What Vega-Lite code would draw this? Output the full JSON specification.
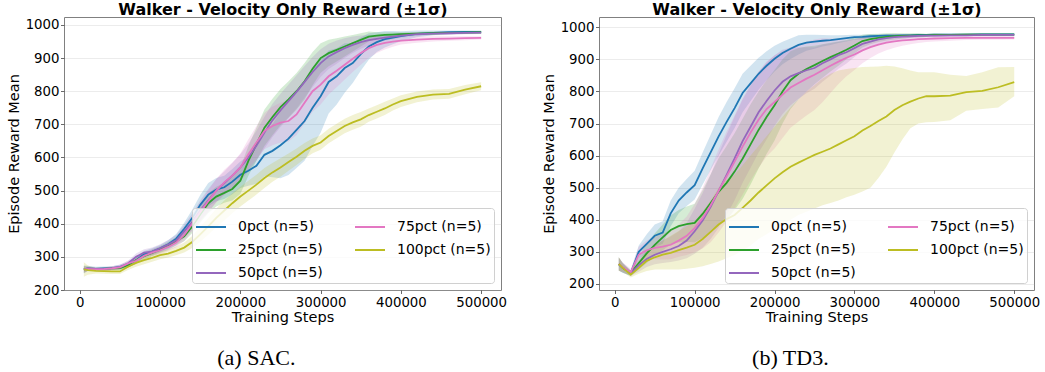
{
"$schema": "https://vega.github.io/schema/vega-lite/v6.json",
"background": "white",
"padding": {"left": 5, "top": 0, "right": 3, "bottom": 0},
"config": {
  "font": "DejaVu Sans",
  "view": {"stroke": "#808080", "strokeWidth": 1},
  "axis": {"labelFont": "DejaVu Sans", "labelFontSize": 13.3, "labelColor": "#000", "titleFont": "DejaVu Sans", "titleFontSize": 14.5, "titleFontWeight": "normal", "titleColor": "#000", "gridColor": "#b0b0b0", "gridOpacity": 0.3, "gridWidth": 0.8, "tickColor": "#444", "tickSize": 3.5, "tickWidth": 0.8, "labelPadding": 1.5, "domain": false}
},
"datasets": {
"sac": [
{"series":"0pct","step":5000,"mean":262,"lo":250,"hi":274},
{"series":"0pct","step":10000,"mean":265,"lo":257,"hi":273},
{"series":"0pct","step":20000,"mean":264,"lo":258,"hi":270},
{"series":"0pct","step":30000,"mean":265,"lo":259,"hi":271},
{"series":"0pct","step":40000,"mean":266,"lo":260,"hi":272},
{"series":"0pct","step":50000,"mean":269,"lo":262,"hi":276},
{"series":"0pct","step":60000,"mean":277,"lo":269,"hi":285},
{"series":"0pct","step":70000,"mean":290,"lo":280,"hi":300},
{"series":"0pct","step":80000,"mean":308,"lo":298,"hi":318},
{"series":"0pct","step":90000,"mean":316,"lo":306,"hi":326},
{"series":"0pct","step":100000,"mean":326,"lo":316,"hi":336},
{"series":"0pct","step":110000,"mean":338,"lo":326,"hi":350},
{"series":"0pct","step":120000,"mean":355,"lo":341,"hi":369},
{"series":"0pct","step":130000,"mean":385,"lo":367,"hi":403},
{"series":"0pct","step":140000,"mean":417,"lo":392,"hi":442},
{"series":"0pct","step":150000,"mean":457,"lo":427,"hi":487},
{"series":"0pct","step":160000,"mean":488,"lo":453,"hi":523},
{"series":"0pct","step":170000,"mean":503,"lo":468,"hi":538},
{"series":"0pct","step":180000,"mean":510,"lo":475,"hi":545},
{"series":"0pct","step":190000,"mean":527,"lo":489,"hi":565},
{"series":"0pct","step":200000,"mean":548,"lo":508,"hi":588},
{"series":"0pct","step":210000,"mean":560,"lo":515,"hi":605},
{"series":"0pct","step":220000,"mean":575,"lo":520,"hi":630},
{"series":"0pct","step":230000,"mean":608,"lo":543,"hi":673},
{"series":"0pct","step":240000,"mean":620,"lo":540,"hi":700},
{"series":"0pct","step":250000,"mean":637,"lo":537,"hi":737},
{"series":"0pct","step":260000,"mean":657,"lo":547,"hi":767},
{"series":"0pct","step":270000,"mean":683,"lo":568,"hi":798},
{"series":"0pct","step":280000,"mean":710,"lo":590,"hi":830},
{"series":"0pct","step":290000,"mean":750,"lo":635,"hi":865},
{"series":"0pct","step":300000,"mean":785,"lo":675,"hi":895},
{"series":"0pct","step":310000,"mean":828,"lo":733,"hi":923},
{"series":"0pct","step":320000,"mean":845,"lo":760,"hi":930},
{"series":"0pct","step":330000,"mean":870,"lo":795,"hi":945},
{"series":"0pct","step":340000,"mean":885,"lo":825,"hi":945},
{"series":"0pct","step":350000,"mean":912,"lo":862,"hi":962},
{"series":"0pct","step":360000,"mean":935,"lo":895,"hi":975},
{"series":"0pct","step":370000,"mean":948,"lo":918,"hi":978},
{"series":"0pct","step":380000,"mean":957,"lo":932,"hi":982},
{"series":"0pct","step":390000,"mean":962,"lo":942,"hi":982},
{"series":"0pct","step":400000,"mean":966,"lo":951,"hi":981},
{"series":"0pct","step":420000,"mean":973,"lo":963,"hi":983},
{"series":"0pct","step":440000,"mean":976,"lo":969,"hi":983},
{"series":"0pct","step":460000,"mean":978,"lo":973,"hi":983},
{"series":"0pct","step":480000,"mean":979,"lo":975,"hi":983},
{"series":"0pct","step":500000,"mean":979,"lo":975,"hi":983},
{"series":"25pct","step":5000,"mean":262,"lo":252,"hi":272},
{"series":"25pct","step":10000,"mean":264,"lo":258,"hi":270},
{"series":"25pct","step":20000,"mean":263,"lo":258,"hi":268},
{"series":"25pct","step":30000,"mean":264,"lo":259,"hi":269},
{"series":"25pct","step":40000,"mean":265,"lo":260,"hi":270},
{"series":"25pct","step":50000,"mean":266,"lo":260,"hi":272},
{"series":"25pct","step":60000,"mean":275,"lo":267,"hi":283},
{"series":"25pct","step":70000,"mean":290,"lo":280,"hi":300},
{"series":"25pct","step":80000,"mean":302,"lo":292,"hi":312},
{"series":"25pct","step":90000,"mean":312,"lo":302,"hi":322},
{"series":"25pct","step":100000,"mean":322,"lo":312,"hi":332},
{"series":"25pct","step":110000,"mean":333,"lo":321,"hi":345},
{"series":"25pct","step":120000,"mean":347,"lo":335,"hi":359},
{"series":"25pct","step":130000,"mean":362,"lo":347,"hi":377},
{"series":"25pct","step":140000,"mean":392,"lo":372,"hi":412},
{"series":"25pct","step":150000,"mean":428,"lo":403,"hi":453},
{"series":"25pct","step":160000,"mean":462,"lo":432,"hi":492},
{"series":"25pct","step":170000,"mean":482,"lo":452,"hi":512},
{"series":"25pct","step":180000,"mean":493,"lo":463,"hi":523},
{"series":"25pct","step":190000,"mean":505,"lo":470,"hi":540},
{"series":"25pct","step":200000,"mean":530,"lo":490,"hi":570},
{"series":"25pct","step":210000,"mean":590,"lo":545,"hi":635},
{"series":"25pct","step":220000,"mean":640,"lo":590,"hi":690},
{"series":"25pct","step":230000,"mean":690,"lo":635,"hi":745},
{"series":"25pct","step":240000,"mean":722,"lo":667,"hi":777},
{"series":"25pct","step":250000,"mean":752,"lo":697,"hi":807},
{"series":"25pct","step":260000,"mean":775,"lo":720,"hi":830},
{"series":"25pct","step":270000,"mean":800,"lo":745,"hi":855},
{"series":"25pct","step":280000,"mean":830,"lo":775,"hi":885},
{"series":"25pct","step":290000,"mean":868,"lo":818,"hi":918},
{"series":"25pct","step":300000,"mean":900,"lo":855,"hi":945},
{"series":"25pct","step":310000,"mean":915,"lo":875,"hi":955},
{"series":"25pct","step":320000,"mean":925,"lo":890,"hi":960},
{"series":"25pct","step":330000,"mean":935,"lo":905,"hi":965},
{"series":"25pct","step":340000,"mean":945,"lo":920,"hi":970},
{"series":"25pct","step":350000,"mean":955,"lo":935,"hi":975},
{"series":"25pct","step":360000,"mean":965,"lo":950,"hi":980},
{"series":"25pct","step":370000,"mean":968,"lo":958,"hi":978},
{"series":"25pct","step":380000,"mean":970,"lo":962,"hi":978},
{"series":"25pct","step":390000,"mean":971,"lo":964,"hi":978},
{"series":"25pct","step":400000,"mean":972,"lo":966,"hi":978},
{"series":"25pct","step":420000,"mean":974,"lo":969,"hi":979},
{"series":"25pct","step":440000,"mean":975,"lo":970,"hi":980},
{"series":"25pct","step":460000,"mean":976,"lo":972,"hi":980},
{"series":"25pct","step":480000,"mean":977,"lo":973,"hi":981},
{"series":"25pct","step":500000,"mean":978,"lo":974,"hi":982},
{"series":"50pct","step":5000,"mean":262,"lo":252,"hi":272},
{"series":"50pct","step":10000,"mean":265,"lo":259,"hi":271},
{"series":"50pct","step":20000,"mean":264,"lo":259,"hi":269},
{"series":"50pct","step":30000,"mean":264,"lo":259,"hi":269},
{"series":"50pct","step":40000,"mean":266,"lo":260,"hi":272},
{"series":"50pct","step":50000,"mean":270,"lo":263,"hi":277},
{"series":"50pct","step":60000,"mean":280,"lo":272,"hi":288},
{"series":"50pct","step":70000,"mean":300,"lo":290,"hi":310},
{"series":"50pct","step":80000,"mean":313,"lo":303,"hi":323},
{"series":"50pct","step":90000,"mean":316,"lo":304,"hi":328},
{"series":"50pct","step":100000,"mean":326,"lo":314,"hi":338},
{"series":"50pct","step":110000,"mean":337,"lo":323,"hi":351},
{"series":"50pct","step":120000,"mean":350,"lo":334,"hi":366},
{"series":"50pct","step":130000,"mean":377,"lo":357,"hi":397},
{"series":"50pct","step":140000,"mean":405,"lo":380,"hi":430},
{"series":"50pct","step":150000,"mean":440,"lo":410,"hi":470},
{"series":"50pct","step":160000,"mean":470,"lo":435,"hi":505},
{"series":"50pct","step":170000,"mean":500,"lo":465,"hi":535},
{"series":"50pct","step":180000,"mean":523,"lo":488,"hi":558},
{"series":"50pct","step":190000,"mean":545,"lo":507,"hi":583},
{"series":"50pct","step":200000,"mean":570,"lo":530,"hi":610},
{"series":"50pct","step":210000,"mean":600,"lo":558,"hi":642},
{"series":"50pct","step":220000,"mean":635,"lo":590,"hi":680},
{"series":"50pct","step":230000,"mean":675,"lo":627,"hi":723},
{"series":"50pct","step":240000,"mean":712,"lo":662,"hi":762},
{"series":"50pct","step":250000,"mean":742,"lo":692,"hi":792},
{"series":"50pct","step":260000,"mean":770,"lo":720,"hi":820},
{"series":"50pct","step":270000,"mean":798,"lo":748,"hi":848},
{"series":"50pct","step":280000,"mean":828,"lo":780,"hi":876},
{"series":"50pct","step":290000,"mean":858,"lo":813,"hi":903},
{"series":"50pct","step":300000,"mean":885,"lo":843,"hi":927},
{"series":"50pct","step":310000,"mean":905,"lo":867,"hi":943},
{"series":"50pct","step":320000,"mean":918,"lo":883,"hi":953},
{"series":"50pct","step":330000,"mean":930,"lo":900,"hi":960},
{"series":"50pct","step":340000,"mean":940,"lo":915,"hi":965},
{"series":"50pct","step":350000,"mean":948,"lo":928,"hi":968},
{"series":"50pct","step":360000,"mean":954,"lo":938,"hi":970},
{"series":"50pct","step":370000,"mean":958,"lo":946,"hi":970},
{"series":"50pct","step":380000,"mean":962,"lo":952,"hi":972},
{"series":"50pct","step":390000,"mean":965,"lo":957,"hi":973},
{"series":"50pct","step":400000,"mean":968,"lo":961,"hi":975},
{"series":"50pct","step":420000,"mean":972,"lo":966,"hi":978},
{"series":"50pct","step":440000,"mean":974,"lo":969,"hi":979},
{"series":"50pct","step":460000,"mean":975,"lo":970,"hi":980},
{"series":"50pct","step":480000,"mean":976,"lo":972,"hi":980},
{"series":"50pct","step":500000,"mean":977,"lo":973,"hi":981},
{"series":"75pct","step":5000,"mean":262,"lo":252,"hi":272},
{"series":"75pct","step":10000,"mean":263,"lo":257,"hi":269},
{"series":"75pct","step":20000,"mean":262,"lo":257,"hi":267},
{"series":"75pct","step":30000,"mean":263,"lo":258,"hi":268},
{"series":"75pct","step":40000,"mean":265,"lo":259,"hi":271},
{"series":"75pct","step":50000,"mean":268,"lo":261,"hi":275},
{"series":"75pct","step":60000,"mean":280,"lo":272,"hi":288},
{"series":"75pct","step":70000,"mean":288,"lo":278,"hi":298},
{"series":"75pct","step":80000,"mean":303,"lo":293,"hi":313},
{"series":"75pct","step":90000,"mean":313,"lo":303,"hi":323},
{"series":"75pct","step":100000,"mean":320,"lo":308,"hi":332},
{"series":"75pct","step":110000,"mean":330,"lo":318,"hi":342},
{"series":"75pct","step":120000,"mean":343,"lo":329,"hi":357},
{"series":"75pct","step":130000,"mean":366,"lo":348,"hi":384},
{"series":"75pct","step":140000,"mean":400,"lo":378,"hi":422},
{"series":"75pct","step":150000,"mean":435,"lo":407,"hi":463},
{"series":"75pct","step":160000,"mean":468,"lo":436,"hi":500},
{"series":"75pct","step":170000,"mean":500,"lo":465,"hi":535},
{"series":"75pct","step":180000,"mean":525,"lo":487,"hi":563},
{"series":"75pct","step":190000,"mean":545,"lo":505,"hi":585},
{"series":"75pct","step":200000,"mean":570,"lo":528,"hi":612},
{"series":"75pct","step":210000,"mean":610,"lo":565,"hi":655},
{"series":"75pct","step":220000,"mean":645,"lo":595,"hi":695},
{"series":"75pct","step":230000,"mean":680,"lo":625,"hi":735},
{"series":"75pct","step":240000,"mean":695,"lo":637,"hi":753},
{"series":"75pct","step":250000,"mean":705,"lo":645,"hi":765},
{"series":"75pct","step":260000,"mean":710,"lo":648,"hi":772},
{"series":"75pct","step":270000,"mean":730,"lo":668,"hi":792},
{"series":"75pct","step":280000,"mean":765,"lo":703,"hi":827},
{"series":"75pct","step":290000,"mean":800,"lo":738,"hi":862},
{"series":"75pct","step":300000,"mean":820,"lo":760,"hi":880},
{"series":"75pct","step":310000,"mean":845,"lo":790,"hi":900},
{"series":"75pct","step":320000,"mean":862,"lo":812,"hi":912},
{"series":"75pct","step":330000,"mean":880,"lo":835,"hi":925},
{"series":"75pct","step":340000,"mean":898,"lo":858,"hi":938},
{"series":"75pct","step":350000,"mean":915,"lo":880,"hi":950},
{"series":"75pct","step":360000,"mean":930,"lo":900,"hi":960},
{"series":"75pct","step":370000,"mean":940,"lo":915,"hi":965},
{"series":"75pct","step":380000,"mean":946,"lo":926,"hi":966},
{"series":"75pct","step":390000,"mean":950,"lo":934,"hi":966},
{"series":"75pct","step":400000,"mean":953,"lo":941,"hi":965},
{"series":"75pct","step":420000,"mean":956,"lo":946,"hi":966},
{"series":"75pct","step":440000,"mean":958,"lo":950,"hi":966},
{"series":"75pct","step":460000,"mean":959,"lo":952,"hi":966},
{"series":"75pct","step":480000,"mean":960,"lo":954,"hi":966},
{"series":"75pct","step":500000,"mean":961,"lo":956,"hi":966},
{"series":"100pct","step":5000,"mean":262,"lo":240,"hi":284},
{"series":"100pct","step":10000,"mean":260,"lo":246,"hi":274},
{"series":"100pct","step":20000,"mean":258,"lo":250,"hi":266},
{"series":"100pct","step":30000,"mean":257,"lo":249,"hi":265},
{"series":"100pct","step":40000,"mean":256,"lo":248,"hi":264},
{"series":"100pct","step":50000,"mean":256,"lo":248,"hi":264},
{"series":"100pct","step":60000,"mean":270,"lo":260,"hi":280},
{"series":"100pct","step":70000,"mean":282,"lo":270,"hi":294},
{"series":"100pct","step":80000,"mean":290,"lo":278,"hi":302},
{"series":"100pct","step":90000,"mean":297,"lo":285,"hi":309},
{"series":"100pct","step":100000,"mean":305,"lo":293,"hi":317},
{"series":"100pct","step":110000,"mean":310,"lo":298,"hi":322},
{"series":"100pct","step":120000,"mean":318,"lo":305,"hi":331},
{"series":"100pct","step":130000,"mean":328,"lo":313,"hi":343},
{"series":"100pct","step":140000,"mean":345,"lo":327,"hi":363},
{"series":"100pct","step":150000,"mean":368,"lo":346,"hi":390},
{"series":"100pct","step":160000,"mean":392,"lo":367,"hi":417},
{"series":"100pct","step":170000,"mean":418,"lo":390,"hi":446},
{"series":"100pct","step":180000,"mean":440,"lo":410,"hi":470},
{"series":"100pct","step":190000,"mean":462,"lo":432,"hi":492},
{"series":"100pct","step":200000,"mean":482,"lo":452,"hi":512},
{"series":"100pct","step":210000,"mean":500,"lo":470,"hi":530},
{"series":"100pct","step":220000,"mean":518,"lo":488,"hi":548},
{"series":"100pct","step":230000,"mean":538,"lo":508,"hi":568},
{"series":"100pct","step":240000,"mean":555,"lo":527,"hi":583},
{"series":"100pct","step":250000,"mean":570,"lo":542,"hi":598},
{"series":"100pct","step":260000,"mean":586,"lo":560,"hi":612},
{"series":"100pct","step":270000,"mean":602,"lo":577,"hi":627},
{"series":"100pct","step":280000,"mean":620,"lo":596,"hi":644},
{"series":"100pct","step":290000,"mean":635,"lo":613,"hi":657},
{"series":"100pct","step":300000,"mean":645,"lo":623,"hi":667},
{"series":"100pct","step":310000,"mean":665,"lo":643,"hi":687},
{"series":"100pct","step":320000,"mean":680,"lo":658,"hi":702},
{"series":"100pct","step":330000,"mean":695,"lo":673,"hi":717},
{"series":"100pct","step":340000,"mean":706,"lo":684,"hi":728},
{"series":"100pct","step":350000,"mean":715,"lo":693,"hi":737},
{"series":"100pct","step":360000,"mean":728,"lo":708,"hi":748},
{"series":"100pct","step":370000,"mean":738,"lo":718,"hi":758},
{"series":"100pct","step":380000,"mean":748,"lo":728,"hi":768},
{"series":"100pct","step":390000,"mean":760,"lo":742,"hi":778},
{"series":"100pct","step":400000,"mean":770,"lo":752,"hi":788},
{"series":"100pct","step":420000,"mean":783,"lo":767,"hi":799},
{"series":"100pct","step":440000,"mean":790,"lo":775,"hi":805},
{"series":"100pct","step":460000,"mean":792,"lo":777,"hi":807},
{"series":"100pct","step":480000,"mean":805,"lo":791,"hi":819},
{"series":"100pct","step":500000,"mean":815,"lo":803,"hi":827}
],
"td3": [
{"series":"0pct","step":5000,"mean":262,"lo":242,"hi":282},
{"series":"0pct","step":10000,"mean":250,"lo":235,"hi":265},
{"series":"0pct","step":20000,"mean":234,"lo":226,"hi":242},
{"series":"0pct","step":30000,"mean":300,"lo":280,"hi":320},
{"series":"0pct","step":40000,"mean":325,"lo":295,"hi":355},
{"series":"0pct","step":50000,"mean":350,"lo":315,"hi":385},
{"series":"0pct","step":60000,"mean":360,"lo":325,"hi":395},
{"series":"0pct","step":70000,"mean":420,"lo":380,"hi":460},
{"series":"0pct","step":80000,"mean":460,"lo":420,"hi":500},
{"series":"0pct","step":90000,"mean":485,"lo":443,"hi":527},
{"series":"0pct","step":100000,"mean":508,"lo":463,"hi":553},
{"series":"0pct","step":110000,"mean":560,"lo":510,"hi":610},
{"series":"0pct","step":120000,"mean":610,"lo":555,"hi":665},
{"series":"0pct","step":130000,"mean":660,"lo":600,"hi":720},
{"series":"0pct","step":140000,"mean":705,"lo":643,"hi":767},
{"series":"0pct","step":150000,"mean":748,"lo":686,"hi":810},
{"series":"0pct","step":160000,"mean":795,"lo":735,"hi":855},
{"series":"0pct","step":170000,"mean":825,"lo":770,"hi":880},
{"series":"0pct","step":180000,"mean":855,"lo":805,"hi":905},
{"series":"0pct","step":190000,"mean":880,"lo":835,"hi":925},
{"series":"0pct","step":200000,"mean":902,"lo":862,"hi":942},
{"series":"0pct","step":210000,"mean":920,"lo":885,"hi":955},
{"series":"0pct","step":220000,"mean":933,"lo":901,"hi":965},
{"series":"0pct","step":230000,"mean":945,"lo":915,"hi":975},
{"series":"0pct","step":240000,"mean":952,"lo":927,"hi":977},
{"series":"0pct","step":250000,"mean":955,"lo":933,"hi":977},
{"series":"0pct","step":260000,"mean":958,"lo":940,"hi":976},
{"series":"0pct","step":270000,"mean":960,"lo":945,"hi":975},
{"series":"0pct","step":280000,"mean":963,"lo":951,"hi":975},
{"series":"0pct","step":290000,"mean":966,"lo":956,"hi":976},
{"series":"0pct","step":300000,"mean":969,"lo":961,"hi":977},
{"series":"0pct","step":310000,"mean":970,"lo":963,"hi":977},
{"series":"0pct","step":320000,"mean":972,"lo":966,"hi":978},
{"series":"0pct","step":330000,"mean":973,"lo":968,"hi":978},
{"series":"0pct","step":340000,"mean":974,"lo":969,"hi":979},
{"series":"0pct","step":350000,"mean":974,"lo":970,"hi":978},
{"series":"0pct","step":360000,"mean":975,"lo":971,"hi":979},
{"series":"0pct","step":370000,"mean":975,"lo":971,"hi":979},
{"series":"0pct","step":380000,"mean":976,"lo":972,"hi":980},
{"series":"0pct","step":390000,"mean":976,"lo":973,"hi":979},
{"series":"0pct","step":400000,"mean":977,"lo":974,"hi":980},
{"series":"0pct","step":420000,"mean":977,"lo":974,"hi":980},
{"series":"0pct","step":440000,"mean":977,"lo":974,"hi":980},
{"series":"0pct","step":460000,"mean":978,"lo":975,"hi":981},
{"series":"0pct","step":480000,"mean":978,"lo":975,"hi":981},
{"series":"0pct","step":500000,"mean":978,"lo":975,"hi":981},
{"series":"25pct","step":5000,"mean":262,"lo":242,"hi":282},
{"series":"25pct","step":10000,"mean":250,"lo":235,"hi":265},
{"series":"25pct","step":20000,"mean":233,"lo":225,"hi":241},
{"series":"25pct","step":30000,"mean":265,"lo":245,"hi":285},
{"series":"25pct","step":40000,"mean":295,"lo":265,"hi":325},
{"series":"25pct","step":50000,"mean":322,"lo":287,"hi":357},
{"series":"25pct","step":60000,"mean":345,"lo":305,"hi":385},
{"series":"25pct","step":70000,"mean":368,"lo":323,"hi":413},
{"series":"25pct","step":80000,"mean":380,"lo":330,"hi":430},
{"series":"25pct","step":90000,"mean":386,"lo":331,"hi":441},
{"series":"25pct","step":100000,"mean":390,"lo":330,"hi":450},
{"series":"25pct","step":110000,"mean":418,"lo":343,"hi":493},
{"series":"25pct","step":120000,"mean":452,"lo":362,"hi":542},
{"series":"25pct","step":130000,"mean":487,"lo":382,"hi":592},
{"series":"25pct","step":140000,"mean":515,"lo":400,"hi":630},
{"series":"25pct","step":150000,"mean":550,"lo":430,"hi":670},
{"series":"25pct","step":160000,"mean":590,"lo":465,"hi":715},
{"series":"25pct","step":170000,"mean":635,"lo":510,"hi":760},
{"series":"25pct","step":180000,"mean":680,"lo":560,"hi":800},
{"series":"25pct","step":190000,"mean":720,"lo":605,"hi":835},
{"series":"25pct","step":200000,"mean":757,"lo":647,"hi":867},
{"series":"25pct","step":210000,"mean":800,"lo":700,"hi":900},
{"series":"25pct","step":220000,"mean":835,"lo":745,"hi":925},
{"series":"25pct","step":230000,"mean":855,"lo":775,"hi":935},
{"series":"25pct","step":240000,"mean":870,"lo":800,"hi":940},
{"series":"25pct","step":250000,"mean":882,"lo":822,"hi":942},
{"series":"25pct","step":260000,"mean":895,"lo":843,"hi":947},
{"series":"25pct","step":270000,"mean":907,"lo":862,"hi":952},
{"series":"25pct","step":280000,"mean":918,"lo":880,"hi":956},
{"series":"25pct","step":290000,"mean":930,"lo":900,"hi":960},
{"series":"25pct","step":300000,"mean":943,"lo":918,"hi":968},
{"series":"25pct","step":310000,"mean":957,"lo":937,"hi":977},
{"series":"25pct","step":320000,"mean":963,"lo":947,"hi":979},
{"series":"25pct","step":330000,"mean":967,"lo":954,"hi":980},
{"series":"25pct","step":340000,"mean":970,"lo":959,"hi":981},
{"series":"25pct","step":350000,"mean":972,"lo":962,"hi":982},
{"series":"25pct","step":360000,"mean":973,"lo":965,"hi":981},
{"series":"25pct","step":370000,"mean":974,"lo":967,"hi":981},
{"series":"25pct","step":380000,"mean":975,"lo":969,"hi":981},
{"series":"25pct","step":390000,"mean":975,"lo":970,"hi":980},
{"series":"25pct","step":400000,"mean":976,"lo":971,"hi":981},
{"series":"25pct","step":420000,"mean":976,"lo":972,"hi":980},
{"series":"25pct","step":440000,"mean":977,"lo":973,"hi":981},
{"series":"25pct","step":460000,"mean":977,"lo":973,"hi":981},
{"series":"25pct","step":480000,"mean":977,"lo":973,"hi":981},
{"series":"25pct","step":500000,"mean":977,"lo":973,"hi":981},
{"series":"50pct","step":5000,"mean":262,"lo":242,"hi":282},
{"series":"50pct","step":10000,"mean":250,"lo":235,"hi":265},
{"series":"50pct","step":20000,"mean":233,"lo":225,"hi":241},
{"series":"50pct","step":30000,"mean":258,"lo":238,"hi":278},
{"series":"50pct","step":40000,"mean":278,"lo":253,"hi":303},
{"series":"50pct","step":50000,"mean":291,"lo":261,"hi":321},
{"series":"50pct","step":60000,"mean":300,"lo":265,"hi":335},
{"series":"50pct","step":70000,"mean":308,"lo":268,"hi":348},
{"series":"50pct","step":80000,"mean":318,"lo":273,"hi":363},
{"series":"50pct","step":90000,"mean":335,"lo":280,"hi":390},
{"series":"50pct","step":100000,"mean":364,"lo":294,"hi":434},
{"series":"50pct","step":110000,"mean":398,"lo":313,"hi":483},
{"series":"50pct","step":120000,"mean":440,"lo":340,"hi":540},
{"series":"50pct","step":130000,"mean":490,"lo":375,"hi":605},
{"series":"50pct","step":140000,"mean":540,"lo":415,"hi":665},
{"series":"50pct","step":150000,"mean":591,"lo":461,"hi":721},
{"series":"50pct","step":160000,"mean":645,"lo":515,"hi":775},
{"series":"50pct","step":170000,"mean":690,"lo":562,"hi":818},
{"series":"50pct","step":180000,"mean":735,"lo":610,"hi":860},
{"series":"50pct","step":190000,"mean":770,"lo":650,"hi":890},
{"series":"50pct","step":200000,"mean":803,"lo":693,"hi":913},
{"series":"50pct","step":210000,"mean":830,"lo":730,"hi":930},
{"series":"50pct","step":220000,"mean":847,"lo":757,"hi":937},
{"series":"50pct","step":230000,"mean":857,"lo":777,"hi":937},
{"series":"50pct","step":240000,"mean":866,"lo":794,"hi":938},
{"series":"50pct","step":250000,"mean":873,"lo":808,"hi":938},
{"series":"50pct","step":260000,"mean":888,"lo":830,"hi":946},
{"series":"50pct","step":270000,"mean":900,"lo":850,"hi":950},
{"series":"50pct","step":280000,"mean":913,"lo":871,"hi":955},
{"series":"50pct","step":290000,"mean":922,"lo":887,"hi":957},
{"series":"50pct","step":300000,"mean":935,"lo":907,"hi":963},
{"series":"50pct","step":310000,"mean":948,"lo":926,"hi":970},
{"series":"50pct","step":320000,"mean":955,"lo":937,"hi":973},
{"series":"50pct","step":330000,"mean":962,"lo":948,"hi":976},
{"series":"50pct","step":340000,"mean":966,"lo":954,"hi":978},
{"series":"50pct","step":350000,"mean":969,"lo":959,"hi":979},
{"series":"50pct","step":360000,"mean":971,"lo":963,"hi":979},
{"series":"50pct","step":370000,"mean":972,"lo":965,"hi":979},
{"series":"50pct","step":380000,"mean":973,"lo":967,"hi":979},
{"series":"50pct","step":390000,"mean":974,"lo":969,"hi":979},
{"series":"50pct","step":400000,"mean":974,"lo":969,"hi":979},
{"series":"50pct","step":420000,"mean":975,"lo":971,"hi":979},
{"series":"50pct","step":440000,"mean":975,"lo":971,"hi":979},
{"series":"50pct","step":460000,"mean":976,"lo":972,"hi":980},
{"series":"50pct","step":480000,"mean":976,"lo":972,"hi":980},
{"series":"50pct","step":500000,"mean":976,"lo":972,"hi":980},
{"series":"75pct","step":5000,"mean":262,"lo":242,"hi":282},
{"series":"75pct","step":10000,"mean":252,"lo":237,"hi":267},
{"series":"75pct","step":20000,"mean":237,"lo":227,"hi":247},
{"series":"75pct","step":30000,"mean":291,"lo":266,"hi":316},
{"series":"75pct","step":40000,"mean":305,"lo":275,"hi":335},
{"series":"75pct","step":50000,"mean":312,"lo":277,"hi":347},
{"series":"75pct","step":60000,"mean":316,"lo":276,"hi":356},
{"series":"75pct","step":70000,"mean":322,"lo":277,"hi":367},
{"series":"75pct","step":80000,"mean":335,"lo":285,"hi":385},
{"series":"75pct","step":90000,"mean":350,"lo":290,"hi":410},
{"series":"75pct","step":100000,"mean":374,"lo":299,"hi":449},
{"series":"75pct","step":110000,"mean":405,"lo":310,"hi":500},
{"series":"75pct","step":120000,"mean":445,"lo":330,"hi":560},
{"series":"75pct","step":130000,"mean":490,"lo":360,"hi":620},
{"series":"75pct","step":140000,"mean":535,"lo":395,"hi":675},
{"series":"75pct","step":150000,"mean":581,"lo":436,"hi":726},
{"series":"75pct","step":160000,"mean":628,"lo":478,"hi":778},
{"series":"75pct","step":170000,"mean":672,"lo":522,"hi":822},
{"series":"75pct","step":180000,"mean":712,"lo":562,"hi":862},
{"series":"75pct","step":190000,"mean":745,"lo":597,"hi":893},
{"series":"75pct","step":200000,"mean":767,"lo":622,"hi":912},
{"series":"75pct","step":210000,"mean":790,"lo":655,"hi":925},
{"series":"75pct","step":220000,"mean":812,"lo":687,"hi":937},
{"series":"75pct","step":230000,"mean":826,"lo":706,"hi":946},
{"series":"75pct","step":240000,"mean":840,"lo":725,"hi":955},
{"series":"75pct","step":250000,"mean":852,"lo":742,"hi":962},
{"series":"75pct","step":260000,"mean":866,"lo":766,"hi":966},
{"series":"75pct","step":270000,"mean":880,"lo":795,"hi":965},
{"series":"75pct","step":280000,"mean":893,"lo":823,"hi":963},
{"series":"75pct","step":290000,"mean":905,"lo":847,"hi":963},
{"series":"75pct","step":300000,"mean":915,"lo":867,"hi":963},
{"series":"75pct","step":310000,"mean":928,"lo":888,"hi":968},
{"series":"75pct","step":320000,"mean":938,"lo":904,"hi":972},
{"series":"75pct","step":330000,"mean":946,"lo":918,"hi":974},
{"series":"75pct","step":340000,"mean":952,"lo":928,"hi":976},
{"series":"75pct","step":350000,"mean":956,"lo":936,"hi":976},
{"series":"75pct","step":360000,"mean":959,"lo":942,"hi":976},
{"series":"75pct","step":370000,"mean":961,"lo":947,"hi":975},
{"series":"75pct","step":380000,"mean":963,"lo":951,"hi":975},
{"series":"75pct","step":390000,"mean":964,"lo":954,"hi":974},
{"series":"75pct","step":400000,"mean":965,"lo":956,"hi":974},
{"series":"75pct","step":420000,"mean":966,"lo":958,"hi":974},
{"series":"75pct","step":440000,"mean":967,"lo":960,"hi":974},
{"series":"75pct","step":460000,"mean":967,"lo":961,"hi":973},
{"series":"75pct","step":480000,"mean":967,"lo":961,"hi":973},
{"series":"75pct","step":500000,"mean":967,"lo":962,"hi":972},
{"series":"100pct","step":5000,"mean":262,"lo":240,"hi":285},
{"series":"100pct","step":10000,"mean":250,"lo":238,"hi":262},
{"series":"100pct","step":20000,"mean":229,"lo":220,"hi":240},
{"series":"100pct","step":30000,"mean":250,"lo":232,"hi":270},
{"series":"100pct","step":40000,"mean":272,"lo":240,"hi":305},
{"series":"100pct","step":50000,"mean":283,"lo":245,"hi":320},
{"series":"100pct","step":60000,"mean":291,"lo":245,"hi":335},
{"series":"100pct","step":70000,"mean":297,"lo":245,"hi":350},
{"series":"100pct","step":80000,"mean":305,"lo":245,"hi":365},
{"series":"100pct","step":90000,"mean":313,"lo":247,"hi":380},
{"series":"100pct","step":100000,"mean":322,"lo":250,"hi":395},
{"series":"100pct","step":110000,"mean":340,"lo":255,"hi":425},
{"series":"100pct","step":120000,"mean":362,"lo":262,"hi":460},
{"series":"100pct","step":130000,"mean":385,"lo":270,"hi":500},
{"series":"100pct","step":140000,"mean":402,"lo":280,"hi":525},
{"series":"100pct","step":150000,"mean":415,"lo":290,"hi":540},
{"series":"100pct","step":160000,"mean":437,"lo":305,"hi":570},
{"series":"100pct","step":170000,"mean":460,"lo":320,"hi":600},
{"series":"100pct","step":180000,"mean":485,"lo":340,"hi":630},
{"series":"100pct","step":190000,"mean":507,"lo":355,"hi":660},
{"series":"100pct","step":200000,"mean":529,"lo":370,"hi":690},
{"series":"100pct","step":210000,"mean":548,"lo":385,"hi":720},
{"series":"100pct","step":220000,"mean":565,"lo":400,"hi":750},
{"series":"100pct","step":230000,"mean":578,"lo":415,"hi":775},
{"series":"100pct","step":240000,"mean":590,"lo":425,"hi":800},
{"series":"100pct","step":250000,"mean":602,"lo":435,"hi":820},
{"series":"100pct","step":260000,"mean":612,"lo":445,"hi":840},
{"series":"100pct","step":270000,"mean":622,"lo":452,"hi":855},
{"series":"100pct","step":280000,"mean":635,"lo":460,"hi":865},
{"series":"100pct","step":290000,"mean":648,"lo":470,"hi":870},
{"series":"100pct","step":300000,"mean":660,"lo":478,"hi":873},
{"series":"100pct","step":310000,"mean":678,"lo":488,"hi":876},
{"series":"100pct","step":320000,"mean":692,"lo":500,"hi":877},
{"series":"100pct","step":330000,"mean":708,"lo":530,"hi":878},
{"series":"100pct","step":340000,"mean":722,"lo":565,"hi":880},
{"series":"100pct","step":350000,"mean":742,"lo":610,"hi":878},
{"series":"100pct","step":360000,"mean":757,"lo":650,"hi":872},
{"series":"100pct","step":370000,"mean":768,"lo":685,"hi":865},
{"series":"100pct","step":380000,"mean":778,"lo":700,"hi":860},
{"series":"100pct","step":390000,"mean":785,"lo":704,"hi":860},
{"series":"100pct","step":400000,"mean":785,"lo":705,"hi":860},
{"series":"100pct","step":420000,"mean":787,"lo":710,"hi":852},
{"series":"100pct","step":440000,"mean":798,"lo":740,"hi":848},
{"series":"100pct","step":460000,"mean":802,"lo":745,"hi":860},
{"series":"100pct","step":480000,"mean":813,"lo":750,"hi":875},
{"series":"100pct","step":500000,"mean":829,"lo":785,"hi":876}
]
},
"spacing": 32,
"resolve": {"scale": {"stroke": "independent", "fill": "independent"}, "legend": {"stroke": "independent", "fill": "independent"}},
"hconcat": [
 {
  "width": 437, "height": 273,
  "title": {"text": "(a) SAC.", "orient": "bottom", "font": "Liberation Serif", "fontSize": 22, "fontWeight": "normal", "color": "#000", "anchor": "middle", "frame": "bounds", "offset": 24},
  "data": {"name": "sac"},
  "resolve": {"axis": {"x": "independent"}},
  "layer": [
   {"mark": {"type": "area", "opacity": 0.2},
    "encoding": {
     "x": {"field": "step", "type": "quantitative", "scale": {"domain": [-19750, 524750], "nice": false, "zero": false}, "axis": {"orient": "top", "title": "Walker - Velocity Only Reward (±1σ)", "titleFontSize": 16, "titleFontWeight": "bold", "titlePadding": 0, "labels": false, "ticks": false, "grid": false, "domain": false}},
     "y": {"field": "lo", "type": "quantitative", "scale": {"domain": [200, 1024], "nice": false, "zero": false}, "axis": {"values": [200, 300, 400, 500, 600, 700, 800, 900, 1000], "format": "d", "labelOverlap": false, "title": "Episode Reward Mean", "titlePadding": 4}},
     "y2": {"field": "hi"},
     "fill": {"field": "series", "type": "nominal", "scale": {"domain": ["100pct", "75pct", "50pct", "25pct", "0pct"], "range": ["#bcbd22", "#e377c2", "#9467bd", "#2ca02c", "#1f77b4"]}, "legend": null}
    }},
   {"mark": {"type": "line", "strokeWidth": 1.8},
    "encoding": {
     "x": {"field": "step", "type": "quantitative", "scale": {"domain": [-19750, 524750], "nice": false, "zero": false}, "axis": {"orient": "bottom", "values": [0, 100000, 200000, 300000, 400000, 500000], "format": "d", "title": "Training Steps", "titlePadding": 2, "labelFlush": false}},
     "y": {"field": "mean", "type": "quantitative", "scale": {"domain": [200, 1024], "nice": false, "zero": false}, "axis": {"values": [200, 300, 400, 500, 600, 700, 800, 900, 1000], "format": "d", "labelOverlap": false, "title": "Episode Reward Mean", "titlePadding": 4}},
     "stroke": {"field": "series", "type": "nominal", "scale": {"domain": ["0pct", "25pct", "50pct", "75pct", "100pct"], "range": ["#1f77b4", "#2ca02c", "#9467bd", "#e377c2", "#bcbd22"]},
      "legend": {"title": null, "orient": "bottom-right", "offset": 7, "columns": 2, "symbolType": "stroke", "symbolSize": 900, "symbolStrokeWidth": 2, "labelFont": "DejaVu Sans", "labelFontSize": 14, "labelColor": "#000", "labelOffset": 11, "rowPadding": -2, "columnPadding": 28, "padding": 3, "fillColor": "rgba(255,255,255,0.8)", "strokeColor": "#d0d0d0", "cornerRadius": 3, "labelExpr": "datum.label + ' (n=5)'"}}
    }}
  ]
 },
 {
  "width": 435, "height": 273,
  "title": {"text": "(b) TD3.", "orient": "bottom", "font": "Liberation Serif", "fontSize": 22, "fontWeight": "normal", "color": "#000", "anchor": "middle", "frame": "bounds", "offset": 24},
  "data": {"name": "td3"},
  "resolve": {"axis": {"x": "independent"}},
  "layer": [
   {"mark": {"type": "area", "opacity": 0.2},
    "encoding": {
     "x": {"field": "step", "type": "quantitative", "scale": {"domain": [-19750, 524750], "nice": false, "zero": false}, "axis": {"orient": "top", "title": "Walker - Velocity Only Reward (±1σ)", "titleFontSize": 16, "titleFontWeight": "bold", "titlePadding": 0, "labels": false, "ticks": false, "grid": false, "domain": false}},
     "y": {"field": "lo", "type": "quantitative", "scale": {"domain": [181, 1032], "nice": false, "zero": false}, "axis": {"values": [200, 300, 400, 500, 600, 700, 800, 900, 1000], "format": "d", "labelOverlap": false, "title": "Episode Reward Mean", "titlePadding": 4}},
     "y2": {"field": "hi"},
     "fill": {"field": "series", "type": "nominal", "scale": {"domain": ["100pct", "75pct", "50pct", "25pct", "0pct"], "range": ["#bcbd22", "#e377c2", "#9467bd", "#2ca02c", "#1f77b4"]}, "legend": null}
    }},
   {"mark": {"type": "line", "strokeWidth": 1.8},
    "encoding": {
     "x": {"field": "step", "type": "quantitative", "scale": {"domain": [-19750, 524750], "nice": false, "zero": false}, "axis": {"orient": "bottom", "values": [0, 100000, 200000, 300000, 400000, 500000], "format": "d", "title": "Training Steps", "titlePadding": 2, "labelFlush": false}},
     "y": {"field": "mean", "type": "quantitative", "scale": {"domain": [181, 1032], "nice": false, "zero": false}, "axis": {"values": [200, 300, 400, 500, 600, 700, 800, 900, 1000], "format": "d", "labelOverlap": false, "title": "Episode Reward Mean", "titlePadding": 4}},
     "stroke": {"field": "series", "type": "nominal", "scale": {"domain": ["0pct", "25pct", "50pct", "75pct", "100pct"], "range": ["#1f77b4", "#2ca02c", "#9467bd", "#e377c2", "#bcbd22"]},
      "legend": {"title": null, "orient": "bottom-right", "offset": 7, "columns": 2, "symbolType": "stroke", "symbolSize": 900, "symbolStrokeWidth": 2, "labelFont": "DejaVu Sans", "labelFontSize": 14, "labelColor": "#000", "labelOffset": 11, "rowPadding": -2, "columnPadding": 28, "padding": 3, "fillColor": "rgba(255,255,255,0.8)", "strokeColor": "#d0d0d0", "cornerRadius": 3, "labelExpr": "datum.label + ' (n=5)'"}}
    }}
  ]
 }
]
}
